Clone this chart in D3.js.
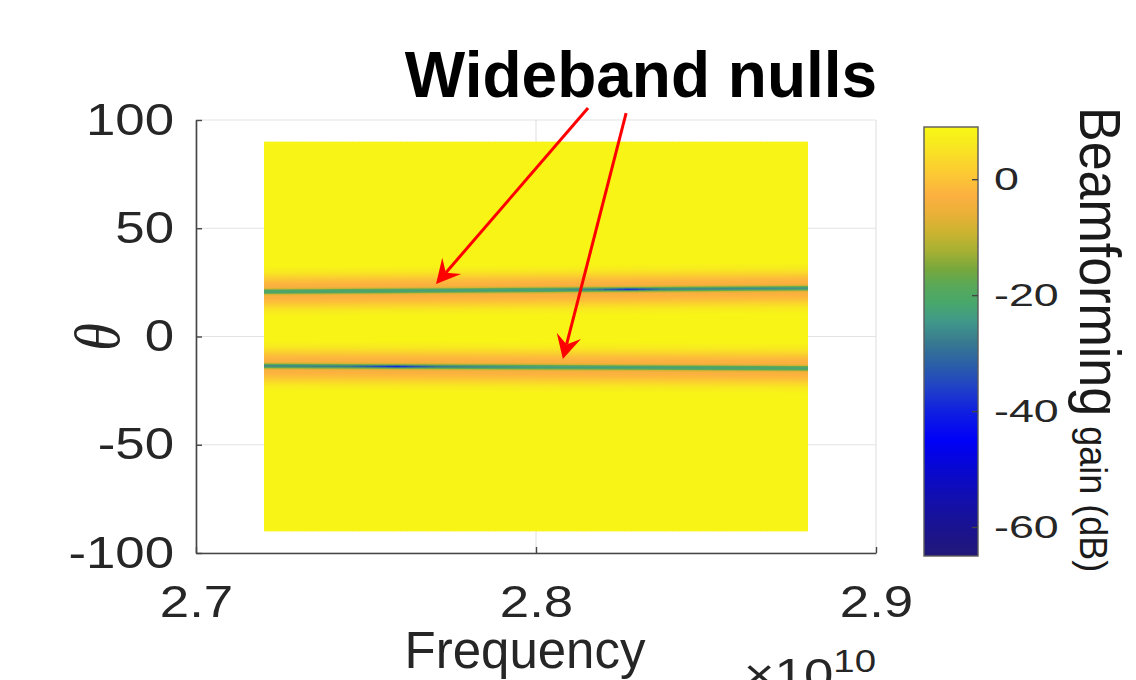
<!DOCTYPE html>
<html lang="en">
<head>
<meta charset="utf-8">
<title>Wideband nulls</title>
<script src="https://d3js.org/d3.v7.min.js"></script>
<style>
  body { margin: 0; background: #fff; }
  svg { display: block; font-family: 'Liberation Sans', Arial, Helvetica, sans-serif; }
</style>
</head>
<body>
<svg id="chart" width="1136" height="680"></svg>
<script>
// axis ticks (frequency in units of 1e10 Hz, theta in degrees, gain in dB)
var xTicks = [2.7, 2.8, 2.9];
var yTicks = [-100, -50, 0, 50, 100];
var cbTicks = [-60, -40, -20, 0];

// extent of the beam pattern image
var freqExtent = [2.72, 2.88];
var thetaExtent = [-90, 90];
var backgroundGain = 8.5;

// null directions read at the two band edges
var nullFreq = [2.72, 2.88];
var null1Theta = [20.7, 22.3];
var null2Theta = [-13.6, -14.7];

// gain at the centre of each null along frequency
var depth1Freq = [2.72, 2.80, 2.818, 2.8276, 2.838, 2.88];
var depth1Gain = [-22, -24, -28, -40, -28, -25];
var depth2Freq = [2.72, 2.745, 2.7588, 2.772, 2.80, 2.88];
var depth2Gain = [-27, -29, -40, -29, -24, -22];

// gain around a null, by offset from its centre (deg)
var profileOffset = [12, 9, 7, 5, 3.2, 2, 1.3, 0.75, -0.75, -1.3, -2, -3.2, -5, -7, -9, -12];
var profileGain   = [8.5, 6, 3, -0.5, -2.5, -3.5, -8, -18, -18, -8, -3.5, -2.5, -0.5, 3, 6, 8.5];

// colour map (top to bottom)
var cmapValue = [9, 5.9, 0.7, -2.8, -5.7, -9.1, -12.6, -15.4, -18.3, -21.2, -24.6, -28.1, -32.1, -36.1, -40, -45, -50.2, -56, -61.7, -65];
var cmapColor = ["#f8f814", "#f8e820", "#fcc834", "#fcb040", "#ecb038", "#ccb430", "#a4b034", "#78a83c", "#5aa858", "#48a86a",
                 "#40988a", "#387a90", "#2a5ea8", "#2040c8", "#1020e0", "#0000f8", "#0808d0", "#1410a8", "#1c1488", "#221878"];
var cbDomain = [-65, 9];

// annotation arrows [freq, theta] start -> tip
var arrows = [
  { from: [2.8153, 105.5], to: [2.7706, 24.2] },
  { from: [2.8265, 103.2], to: [2.8079, -10.4] }
];

var svg = d3.select("#chart");
var defs = svg.append("defs");

var x = d3.scaleLinear().domain([2.7, 2.9]).range([196, 876]);
var y = d3.scaleLinear().domain([-100, 100]).range([553, 120]);
var color = d3.scaleLinear().domain(cmapValue).range(cmapColor).clamp(true);

var n1 = d3.scaleLinear().domain(nullFreq).range(null1Theta);
var n2 = d3.scaleLinear().domain(nullFreq).range(null2Theta);
var dep1 = d3.scaleLinear().domain(depth1Freq).range(depth1Gain).clamp(true);
var dep2 = d3.scaleLinear().domain(depth2Freq).range(depth2Gain).clamp(true);

// grid
var grid = svg.append("g").attr("stroke", "#e3e3e3").attr("stroke-width", 1.2);
grid.selectAll(".gy").data(yTicks).join("line")
  .attr("x1", x(2.7)).attr("x2", x(2.9)).attr("y1", d => y(d)).attr("y2", d => y(d));
grid.selectAll(".gx").data(xTicks).join("line")
  .attr("y1", y(-100)).attr("y2", y(100)).attr("x1", d => x(d)).attr("x2", d => x(d));

// heatmap drawn in narrow frequency strips, each with a vertical gradient
var step = 0.002;
var nStrips = Math.round((freqExtent[1] - freqExtent[0]) / step);
var yTop = y(thetaExtent[1]), yBot = y(thetaExtent[0]);
var heat = svg.append("g");

function nullStops(c, depth) {
  var s = [];
  profileOffset.forEach(function(o, i) {
    if (o < 0 && (i === 0 || profileOffset[i - 1] > 0)) s.push({ t: c, g: depth });
    s.push({ t: c + o, g: profileGain[i] });
  });
  return s;
}

for (var i = 0; i < nStrips; i++) {
  var f0 = freqExtent[0] + i * step;
  var fm = f0 + step / 2;
  var stops = [{ t: thetaExtent[1], g: backgroundGain }]
    .concat(nullStops(n1(fm), dep1(fm)))
    .concat(nullStops(n2(fm), dep2(fm)))
    .concat([{ t: thetaExtent[0], g: backgroundGain }]);
  var grad = defs.append("linearGradient")
    .attr("id", "strip" + i)
    .attr("gradientUnits", "userSpaceOnUse")
    .attr("x1", 0).attr("x2", 0).attr("y1", yTop).attr("y2", yBot);
  grad.selectAll("stop").data(stops).join("stop")
    .attr("offset", d => (y(d.t) - yTop) / (yBot - yTop))
    .attr("stop-color", d => color(d.g));
  var xa = x(f0), xb = x(f0 + step);
  heat.append("rect")
    .attr("x", xa).attr("y", yTop)
    .attr("width", xb - xa + (i < nStrips - 1 ? 0.8 : 0))
    .attr("height", yBot - yTop)
    .attr("fill", "url(#strip" + i + ")");
}

// axes
var tickScale = 1.2;
var yAxis = d3.axisLeft(y).tickValues(yTicks).tickSize(-6).tickSizeOuter(0)
  .tickPadding(22 / tickScale).tickFormat(d => String(d));
var gy = svg.append("g").attr("transform", "translate(196,0)").call(yAxis);

var xAxis = d3.axisBottom(x).tickValues(xTicks).tickSize(-6).tickSizeOuter(0)
  .tickPadding(33).tickFormat(d => d.toFixed(1));
var gx = svg.append("g").attr("transform", "translate(0,553)").call(xAxis);

[gx, gy].forEach(function(g) {
  g.attr("color", "#454545");
  g.select(".domain").attr("stroke-width", 1.6);
  g.selectAll(".tick line").attr("stroke-width", 1.4);
  g.selectAll(".tick text")
    .attr("font-size", 44).attr("fill", "#262626")
    .attr("transform", "scale(" + tickScale + ",1)");
});

// labels
svg.append("text")
  .attr("x", 525).attr("y", 668)
  .attr("text-anchor", "middle").attr("font-size", 51).attr("fill", "#262626")
  .text("Frequency");

svg.append("text")
  .attr("transform", "translate(96,337) scale(1.15,1) rotate(-90)")
  .attr("text-anchor", "middle").attr("dy", "0.35em")
  .attr("font-family", "'Liberation Serif', serif").attr("font-style", "italic")
  .attr("font-size", 56).attr("fill", "#262626")
  .text("θ");

var expo = svg.append("text")
  .attr("transform", "translate(876,690) scale(1.2,1)")
  .attr("text-anchor", "end").attr("font-size", 44).attr("fill", "#262626");
expo.append("tspan").text("×10");
expo.append("tspan").attr("font-size", 32).attr("dy", -18).text("10");

// colour bar
var cb = d3.scaleLinear().domain(cbDomain).range([556, 127]);
var cbGrad = defs.append("linearGradient")
  .attr("id", "cbgrad").attr("gradientUnits", "userSpaceOnUse")
  .attr("x1", 0).attr("x2", 0).attr("y1", cb(cbDomain[1])).attr("y2", cb(cbDomain[0]));
cbGrad.selectAll("stop").data(cmapValue).join("stop")
  .attr("offset", d => (cb(d) - cb(cbDomain[1])) / (cb(cbDomain[0]) - cb(cbDomain[1])))
  .attr("stop-color", (d, i) => cmapColor[i]);
svg.append("rect")
  .attr("x", 924).attr("y", cb(cbDomain[1]))
  .attr("width", 54).attr("height", cb(cbDomain[0]) - cb(cbDomain[1]))
  .attr("fill", "url(#cbgrad)").attr("stroke", "#5a5a5a").attr("stroke-width", 1.4);

var cbScaleX = 1.4;
var cbAxis = d3.axisRight(cb).tickValues(cbTicks).tickSize(-6).tickSizeOuter(0)
  .tickPadding(16 / cbScaleX).tickFormat(d => String(d));
var gcb = svg.append("g").attr("transform", "translate(978,0)").call(cbAxis);
gcb.attr("color", "#454545");
gcb.select(".domain").remove();
gcb.selectAll(".tick line").attr("stroke-width", 1.4);
gcb.selectAll(".tick text")
  .attr("font-size", 32).attr("fill", "#262626")
  .attr("transform", "scale(" + cbScaleX + ",1)");

var cbLabel = svg.append("text")
  .attr("transform", "translate(1080,107) scale(1.1,1) rotate(90)")
  .attr("font-size", 52).attr("fill", "#1a1a1a");
cbLabel.append("tspan").text("Beamforming");
cbLabel.append("tspan").attr("font-size", 36).text(" gain (dB)");

// annotation
svg.append("text")
  .attr("x", 641).attr("y", 97)
  .attr("text-anchor", "middle").attr("font-size", 64).attr("font-weight", "bold").attr("fill", "#000")
  .text("Wideband nulls");

var headLen = 24, headHalf = 12.5, notch = 15;
var ann = svg.append("g");
arrows.forEach(function(a) {
  var x0 = x(a.from[0]), y0 = y(a.from[1]);
  var x1 = x(a.to[0]), y1 = y(a.to[1]);
  var len = Math.hypot(x1 - x0, y1 - y0);
  var ux = (x1 - x0) / len, uy = (y1 - y0) / len;
  var px = -uy, py = ux;
  ann.append("line")
    .attr("x1", x0).attr("y1", y0)
    .attr("x2", x1 - ux * notch).attr("y2", y1 - uy * notch)
    .attr("stroke", "#ff0000").attr("stroke-width", 3);
  var pts = [
    [x1, y1],
    [x1 - ux * headLen + px * headHalf, y1 - uy * headLen + py * headHalf],
    [x1 - ux * notch, y1 - uy * notch],
    [x1 - ux * headLen - px * headHalf, y1 - uy * headLen - py * headHalf]
  ];
  ann.append("path")
    .attr("d", "M" + pts.map(p => p.join(",")).join("L") + "Z")
    .attr("fill", "#ff0000");
});
</script>
</body>
</html>
